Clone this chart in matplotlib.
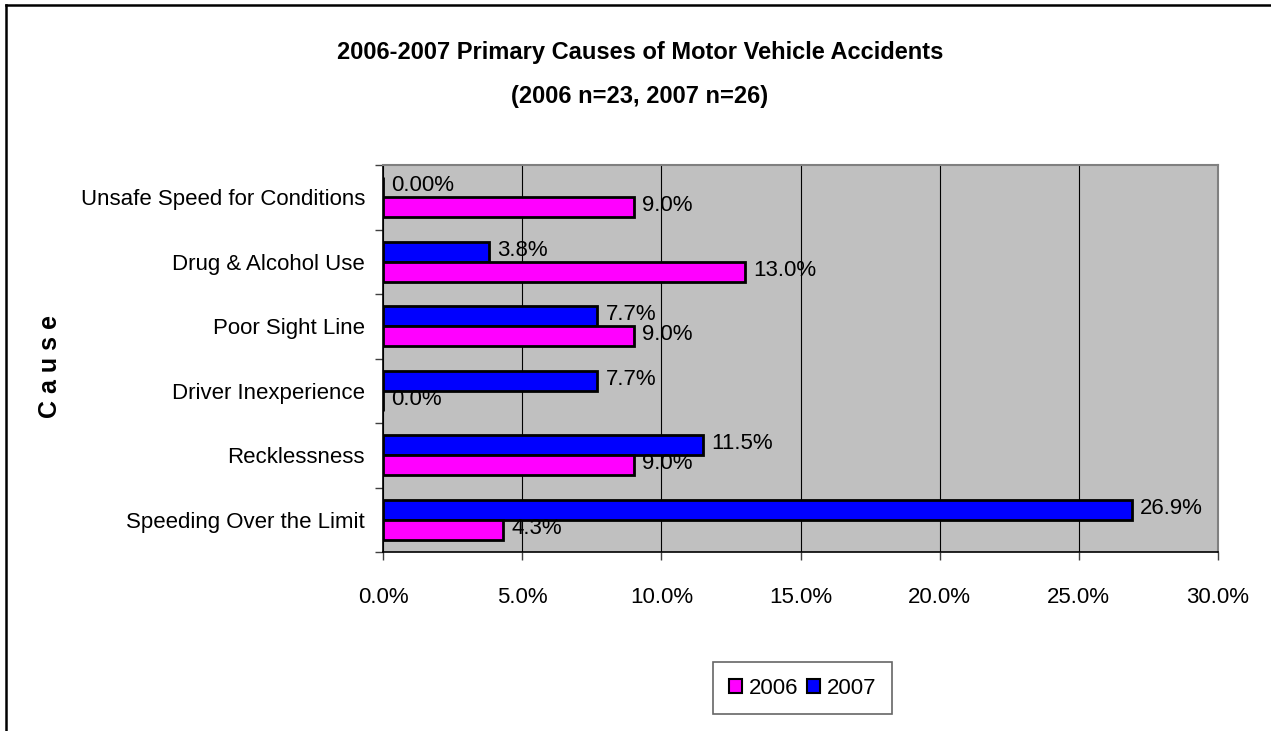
import numpy as np
import matplotlib
matplotlib.use('Agg')
import matplotlib.pyplot as plt
from matplotlib.lines import Line2D
from matplotlib.ticker import FixedLocator, FuncFormatter

# データ (上から下の順)
causes = ['Unsafe Speed for Conditions', 'Drug & Alcohol Use', 'Poor Sight Line',
          'Driver Inexperience', 'Recklessness', 'Speeding Over the Limit']
pct_2006 = [9.0, 13.0, 9.0, 0.0, 9.0, 4.3]
pct_2007 = [0.0, 3.8, 7.7, 7.7, 11.5, 26.9]
lbl_2006 = ['9.0%', '13.0%', '9.0%', '0.0%', '9.0%', '4.3%']
lbl_2007 = ['0.00%', '3.8%', '7.7%', '7.7%', '11.5%', '26.9%']
years = ['2006', '2007']
x_ticks = [0, 5, 10, 15, 20, 25, 30]

FONT = ['Liberation Sans', 'DejaVu Sans']
plt.rcParams['font.family'] = FONT
FS = 16

W, H = 1271, 731
fig = plt.figure(figsize=(W / 100, H / 100), dpi=100)
ax = fig.add_axes([383 / W, 1 - 552 / H, (1218 - 383) / W, (552 - 165) / H])
ax.set_facecolor('#C0C0C0')

y = np.arange(len(causes))
h = 0.31
b07 = ax.barh(y - h / 2, pct_2007, height=h, color='#0000FF', edgecolor='black', linewidth=2.0, zorder=3)
b06 = ax.barh(y + h / 2, pct_2006, height=h, color='#FF00FF', edgecolor='black', linewidth=2.0, zorder=3)

# バー端のラベル
for bars, labels in ((b07, lbl_2007), (b06, lbl_2006)):
    for rect, lab in zip(bars, labels):
        ax.annotate(lab, (rect.get_width(), rect.get_y() + rect.get_height() / 2),
                    xytext=(6, 1), textcoords='offset points', ha='left', va='center',
                    fontsize=FS, zorder=4)

ax.set_xlim(0, 30)
ax.set_ylim(len(causes) - 0.5, -0.5)
ax.xaxis.set_major_locator(FixedLocator(x_ticks))
ax.xaxis.set_major_formatter(FuncFormatter(lambda v, _: f'{v:.1f}%'))
ax.grid(axis='x', color='black', linewidth=0.8, zorder=1)
ax.set_yticks(y)
ax.set_yticklabels(causes)
ax.yaxis.set_minor_locator(FixedLocator(np.arange(-0.5, len(causes), 1)))
ax.tick_params(axis='y', which='major', length=0, pad=13, labelsize=FS)
ax.tick_params(axis='y', which='minor', length=6, width=1, color='#404040')
ax.tick_params(axis='x', length=6, width=1, pad=19, labelsize=FS, color='#404040')

for s in ('top', 'right'):
    ax.spines[s].set_color('#808080')
    ax.spines[s].set_linewidth(1.5)
for s in ('left', 'bottom'):
    ax.spines[s].set_color('black')
    ax.spines[s].set_linewidth(1.2)

fig.text(640 / W, 1 - 52 / H, '2006-2007 Primary Causes of Motor Vehicle Accidents',
         ha='center', va='center', fontsize=17, fontweight='bold')
fig.text(640 / W, 1 - 97 / H, '(2006 n=23, 2007 n=26)',
         ha='center', va='center', fontsize=17, fontweight='bold')
fig.text(50 / W, 1 - 366 / H, 'C a u s e', rotation=90, ha='center', va='center',
         fontsize=18, fontweight='bold')

leg = fig.legend([b06, b07], years, loc='upper left', bbox_to_anchor=(713 / W, 1 - 662 / H),
                 borderaxespad=0, ncol=2, fontsize=FS, frameon=True, fancybox=False,
                 handlelength=0.6, handleheight=0.6, handletextpad=0.3, columnspacing=0.4,
                 borderpad=0.7)
leg.get_frame().set_edgecolor('#404040')
leg.get_frame().set_linewidth(1.2)
for p in leg.get_patches():
    p.set_linewidth(1.5)

# 外枠
fig.add_artist(Line2D([6 / W, 1], [1 - 5 / H, 1 - 5 / H], color='black', linewidth=1.8))
fig.add_artist(Line2D([6 / W, 6 / W], [0, 1 - 5 / H], color='black', linewidth=1.8))

fig.savefig('out.png', dpi=100)
